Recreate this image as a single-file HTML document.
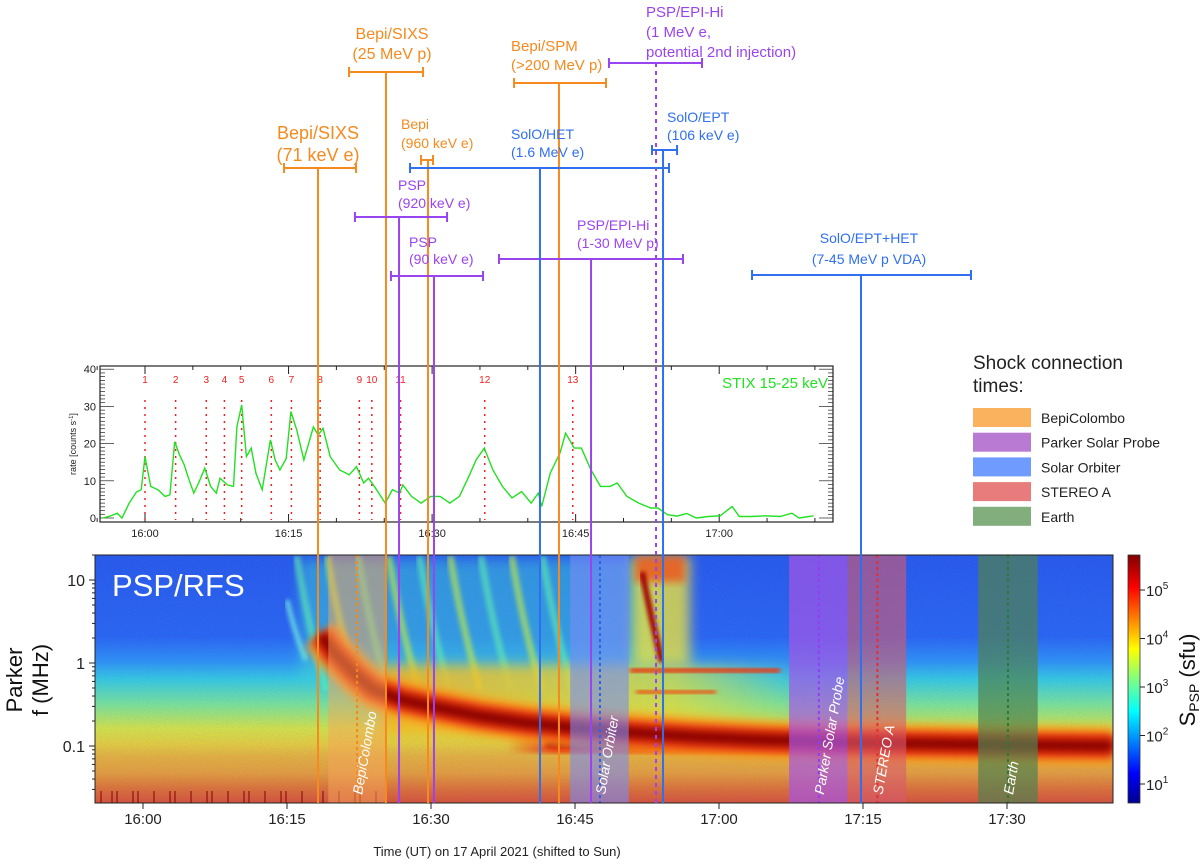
<!DOCTYPE html>
<html><head><meta charset="utf-8"><style>
html,body{margin:0;padding:0;background:#fff;}
svg{display:block;font-family:"Liberation Sans",Arial,sans-serif;}
</style></head><body>
<svg id="fig" width="1200" height="868" viewBox="0 0 1200 868">
<defs>
<clipPath id="specClip"><rect x="95" y="555" width="1018" height="248"/></clipPath>
<filter id="blur4" x="-20%" y="-20%" width="140%" height="140%"><feGaussianBlur stdDeviation="4"/></filter>
<filter id="blur6" x="-30%" y="-30%" width="160%" height="160%"><feGaussianBlur stdDeviation="6"/></filter>
<filter id="blur2"><feGaussianBlur stdDeviation="2"/></filter>
<filter id="noise" x="0" y="0" width="100%" height="100%"><feTurbulence type="fractalNoise" baseFrequency="0.9" numOctaves="1" seed="3"/><feColorMatrix type="matrix" values="0 0 0 0 0.1  0 0 0 0 0.2  0 0 0 0 0.9  0 0 0 0.35 0"/></filter>
<linearGradient id="bgGrad" x1="0" y1="555" x2="0" y2="803" gradientUnits="userSpaceOnUse">
<stop offset="0" stop-color="#1f52e6"/>
<stop offset="0.33" stop-color="#2161ef"/>
<stop offset="0.43" stop-color="#2794f2"/>
<stop offset="0.50" stop-color="#2fd2dc"/>
<stop offset="0.60" stop-color="#7cf08a"/>
<stop offset="0.70" stop-color="#e4f02c"/>
<stop offset="0.76" stop-color="#f8d820"/>
<stop offset="0.81" stop-color="#f8b820"/>
<stop offset="0.88" stop-color="#f8a01e"/>
<stop offset="0.94" stop-color="#f07018"/>
<stop offset="1" stop-color="#e84a1a"/>
</linearGradient>
<linearGradient id="cbGrad" x1="0" y1="1" x2="0" y2="0">
<stop offset="0" stop-color="#00008f"/><stop offset="0.12" stop-color="#0000ff"/>
<stop offset="0.37" stop-color="#00ffff"/><stop offset="0.5" stop-color="#80ff80"/>
<stop offset="0.62" stop-color="#ffff00"/><stop offset="0.87" stop-color="#ff0000"/>
<stop offset="1" stop-color="#800000"/>
</linearGradient>
<linearGradient id="midGrad" x1="0" y1="0" x2="1" y2="0">
<stop offset="0" stop-color="#f8b020" stop-opacity="0.85"/>
<stop offset="0.7" stop-color="#f0d830" stop-opacity="0.7"/>
<stop offset="1" stop-color="#f0e030" stop-opacity="0"/>
</linearGradient>
<linearGradient id="redGrad" x1="0" y1="0" x2="1" y2="0">
<stop offset="0" stop-color="#e83010" stop-opacity="0"/>
<stop offset="0.08" stop-color="#e83010" stop-opacity="1"/>
<stop offset="1" stop-color="#e83010" stop-opacity="1"/>
</linearGradient>
</defs>
<g id="spec" clip-path="url(#specClip)"></g>
<g id="overlay"></g>
</svg>
<script>
// ---------- data ----------
const stixTimes = [-4.4,-3.65,-2.9,-2.4,-1.65,-0.9,-0.4,0,0.6,1.35,2.1,2.6,3.1,3.6,4.1,4.6,5.1,5.6,6.25,6.85,7.45,7.85,8.6,9.25,9.6,10.1,10.6,11.1,11.6,12.25,13.1,13.6,14.1,14.75,15.25,15.85,16.6,17.6,18.1,18.6,19.35,20.35,21.35,22.1,22.85,23.35,24.1,25.1,25.85,26.6,26.95,27.85,28.85,29.85,30.85,31.85,32.85,33.85,34.6,35.45,36.35,37.35,38.35,39.35,40.35,41.1,41.45,42.35,43.35,43.95,44.85,45.6,46.6,47.6,48.6,49.35,50.35,51.6,52.85,53.6,54.6,55.6,56.6,57.6,58.85,60.1,61.35,62.1,63.35,64.85,66.35,67.6,68.35,69.85];
const stixRates = [0,0.5,1.3,0,4,7,7.6,16.5,8.5,7.6,5.8,6.2,20.5,17,14.3,10.3,6.7,9.4,13.4,8.5,6.7,10.7,8.9,8.5,24.5,30.4,16.5,18.8,12,7.6,21,15.6,12.9,16,28.6,23.7,15.6,24.5,22.3,24.1,16.5,12.9,11.6,13.8,9.4,10.7,8,4,7.6,6.7,8.9,5.8,4,5.8,5.8,4,5.8,11.2,15.6,18.8,12.9,8.5,5.4,7.1,4,6.7,3.1,12.1,17.4,22.8,18.8,18.8,12.9,8.5,8.5,9.4,5.8,4,2.7,2.7,0.9,0.5,1.2,0,0.4,0.6,3.1,0.4,0.4,0.6,0.4,1.3,0,0.6];
const flareLabels = ["1","2","3","4","5","6","7","8","9","10","11","12","13"];
const flareTimes = [0,3.2,6.4,8.3,10.1,13.2,15.3,18.3,22.4,23.7,26.7,35.5,44.7];
const stixYTicks = [0,10,20,30,40];
const stixXTicks = [0,15,30,45,60];
const stixXTickLabels = ["16:00","16:15","16:30","16:45","17:00"];
const specXTicks = [0,15,30,45,60,75,90];
const specXTickLabels = ["16:00","16:15","16:30","16:45","17:00","17:15","17:30"];
const specYTicks = [10,1,0.1];
const specYTickLabels = ["10","1","0.1"];
const cbTicks = [1,2,3,4,5];
const bandTimes = [18.5,20,22,24,27,30,35,40,45,50,57,65,75,90,101];
const bandFreqs = [2.2,1.3,0.75,0.48,0.36,0.3,0.23,0.19,0.165,0.148,0.13,0.118,0.11,0.103,0.1];
const markerTimes = [18.23,25.31,29.69,43.33,26.67,30.31,46.67,53.44,41.35,54.17,74.79];
const markerStart = [14.69,21.46,28.96,38.65,22.08,25.83,37.08,48.54,27.81,53.02,63.44];
const markerEnd = [22.19,29.17,30.21,48.23,31.67,35.42,56.25,58.23,54.79,55.63,86.25];
const shockNames = ["BepiColombo","Solar Orbiter","Parker Solar Probe","STEREO A","Earth"];
const shockStart = [19.3,44.5,67.3,73.4,87.0];
const shockEnd = [25.3,50.6,73.4,79.5,93.2];
const shockMid = [22.3,47.6,70.4,76.5,90.1];

// ---------- scales ----------
const sx = t => 143 + 9.6*t;
const sy = f => 663 - 83*Math.log10(f);
const tx = t => 145 + 9.57*t;
const ty = v => 518 - 3.72*v;
const cy = e => 784 - 48.5*(e-1);

const NS="http://www.w3.org/2000/svg";
function mk(tag, attrs, parent){const e=document.createElementNS(NS,tag);for(const k in attrs)e.setAttribute(k,attrs[k]);parent.appendChild(e);return e;}
const spec=document.getElementById('spec');
const ov=document.getElementById('overlay');

// ---------- spectrogram ----------
let r=mk('rect',{x:95,y:555,width:1018,height:248,fill:'url(#bgGrad)'},spec);

mk('rect',{x:95,y:555,width:1018,height:248,filter:'url(#noise)'},spec);
mk('rect',{x:300,y:560,width:360,height:120,fill:'#40d8d0',opacity:0.45,filter:'url(#blur6)'},spec);
for(let i=0;i<9;i++){
  const x0=sx(16+i*3.2);
  const p=mk('path',{d:`M${x0} 556 Q${x0+10} 620 ${x0+30} 690`,stroke:i%2?'#c8f040':'#60f0b0',"stroke-width":7,fill:'none',opacity:0.6,filter:'url(#blur2)'},spec);
  
}
mk('path',{d:`M${sx(15)} 600 Q${sx(16)} 640 ${sx(17)} 660`,stroke:'#70e8e0',"stroke-width":5,fill:'none',opacity:0.8,filter:'url(#blur2)'},spec);
mk('rect',{x:sx(25),y:665,width:sx(68)-sx(25),height:70,fill:'url(#midGrad)',filter:'url(#blur6)'},spec);
mk('rect',{x:sx(38),y:735,width:sx(101)-sx(38),height:18,fill:'url(#redGrad)',filter:'url(#blur2)'},spec);
mk('rect',{x:sx(42),y:740,width:sx(101)-sx(42),height:8,fill:'#b00808',filter:'url(#blur2)'},spec);
mk('rect',{x:632,y:556,width:58,height:110,fill:'#e8e040',opacity:0.8,filter:'url(#blur6)'},spec);
mk('rect',{x:635,y:556,width:50,height:26,fill:'#f04818',opacity:0.75,filter:'url(#blur4)'},spec);
mk('path',{d:'M642 572 L652 620 L662 662',stroke:'#a00000',"stroke-width":6,fill:'none',filter:'url(#blur2)'},spec);
mk('rect',{x:630,y:668,width:150,height:5,fill:'#e83a10',filter:'url(#blur2)'},spec);
mk('rect',{x:636,y:690,width:80,height:4,fill:'#ee5010',filter:'url(#blur2)'},spec);
let bd='';bandTimes.forEach((t,i)=>{bd+=(i?'L':'M')+sx(t).toFixed(1)+' '+sy(bandFreqs[i]).toFixed(1)+' ';});
[[40,'#f8a020',0.8],[26,'#ee3a10',1],[12,'#8a0000',1]].forEach(s=>{
  const p=mk('path',{d:bd,stroke:s[1],"stroke-width":s[0],fill:'none',"stroke-linejoin":'round',opacity:s[2],filter:'url(#blur4)'},spec);
  
});
for(let i=0;i<24;i++){ const x=100+((i*37)%280); mk('rect',{x:x,y:791,width:2,height:12,fill:'#901010',opacity:0.6},spec);}

const shockFill=['rgba(245,165,90,0.5)','rgba(120,140,245,0.6)','rgba(165,85,230,0.7)','rgba(215,90,110,0.6)','rgba(80,130,80,0.7)'];
const shockDash=['#f08a20','#3060e8','#9040f0','#e03030','#2a7a3a'];
shockNames.forEach((n,i)=>{
  const b=mk('rect',{x:sx(shockStart[i]),y:555,width:sx(shockEnd[i])-sx(shockStart[i]),height:248,fill:shockFill[i]},spec);
  
  mk('line',{x1:sx(shockMid[i]),x2:sx(shockMid[i]),y1:555,y2:803,stroke:shockDash[i],"stroke-width":2,"stroke-dasharray":'3,3'},spec);
  const t=mk('text',{x:0,y:0,transform:`translate(${sx(shockMid[i])+5},795) rotate(-80)`,fill:'#fff',"font-size":14,"font-style":'italic'},spec);
  t.textContent=n;
  
});
let tt=mk('text',{x:112,y:596,fill:'#fff',"font-size":31},spec);tt.textContent='PSP/RFS';


mk('rect',{x:95,y:555,width:1018,height:248,fill:'none',stroke:'#222',"stroke-width":1},ov);
specXTicks.forEach((t,i)=>{
  mk('line',{x1:sx(t),x2:sx(t),y1:803,y2:809,stroke:'#222'},ov);
  const l=mk('text',{x:sx(t),y:824,"text-anchor":'middle',"font-size":15,fill:'#222'},ov);l.textContent=specXTickLabels[i];
  
});
specYTicks.forEach((f,i)=>{
  mk('line',{x1:89,x2:95,y1:sy(f),y2:sy(f),stroke:'#222'},ov);
  const l=mk('text',{x:85,y:sy(f)+6,"text-anchor":'end',"font-size":16,fill:'#222'},ov);l.textContent=specYTickLabels[i];
  
});
for(let d=-2;d<=1;d++)for(let m=2;m<10;m++){const y=sy(m*Math.pow(10,d));if(y>555&&y<803)mk('line',{x1:92,x2:95,y1:y,y2:y,stroke:'#222'},ov);}
let yl=mk('text',{x:0,y:0,transform:'translate(22,680) rotate(-90)',"text-anchor":'middle',"font-size":22,fill:'#111'},ov);yl.textContent='Parker';

yl=mk('text',{x:0,y:0,transform:'translate(48,680) rotate(-90)',"text-anchor":'middle',"font-size":22,fill:'#111'},ov);yl.textContent='f (MHz)';

let xl=mk('text',{x:497,y:856,"text-anchor":'middle',"font-size":13,fill:'#222'},ov);xl.textContent='Time (UT) on 17 April 2021 (shifted to Sun)';


let cb=mk('rect',{x:1128,y:555,width:12,height:248,fill:'url(#cbGrad)',stroke:'#333',"stroke-width":0.8},ov);

cbTicks.forEach(e=>{
  mk('line',{x1:1140,x2:1145,y1:cy(e),y2:cy(e),stroke:'#222'},ov);
  const l=mk('text',{x:1146,y:cy(e)+6,"font-size":15,fill:'#222'},ov);
  l.innerHTML='10<tspan dy="-7" font-size="10">'+e+'</tspan>';
  
});
let cl=mk('text',{x:0,y:0,transform:'translate(1195,680) rotate(-90)',"text-anchor":'middle',"font-size":22,fill:'#111'},ov);
cl.innerHTML='S<tspan font-size="14" dy="4">PSP</tspan><tspan dy="-4"> (sfu)</tspan>';


// ---------- STIX panel ----------
let sp=mk('rect',{x:100,y:366,width:733,height:156,fill:'#fff',stroke:'#222',"stroke-width":1.2},ov);

for(let v=0;v<=40;v++){const len=v%10===0?14:5;mk('line',{x1:100,x2:100+len,y1:ty(v),y2:ty(v),stroke:'#222',"stroke-width":0.7},ov);mk('line',{x1:833,x2:833-len,y1:ty(v),y2:ty(v),stroke:'#222',"stroke-width":0.7},ov);}
stixYTicks.forEach(v=>{const l=mk('text',{x:96,y:ty(v)+4,"text-anchor":'end',"font-size":11,fill:'#222'},ov);l.textContent=v;
  });
for(let t=-5;t<=70;t+=5){const big=t%15===0;mk('line',{x1:tx(t),x2:tx(t),y1:522,y2:522-(big?8:4),stroke:'#222'},ov);mk('line',{x1:tx(t),x2:tx(t),y1:366,y2:366+(big?8:4),stroke:'#222'},ov);}
stixXTicks.forEach((t,i)=>{const l=mk('text',{x:tx(t),y:537,"text-anchor":'middle',"font-size":11,fill:'#222'},ov);l.textContent=stixXTickLabels[i];
  });
let rl=mk('text',{x:0,y:0,transform:'translate(76,444) rotate(-90)',"text-anchor":'middle',"font-size":9,fill:'#222'},ov);
rl.innerHTML='rate [counts s<tspan dy="-3" font-size="6">-1</tspan><tspan dy="3">]</tspan>';

flareTimes.forEach((t,i)=>{
  const ln=mk('line',{x1:tx(t),x2:tx(t),y1:400,y2:520,stroke:'#f02020',"stroke-width":1.5,"stroke-dasharray":'2,5'},ov);
  
  const l=mk('text',{x:tx(t),y:383,"text-anchor":'middle',"font-size":10,fill:'#f02020'},ov);l.textContent=flareLabels[i];
  
});
let sd='';stixTimes.forEach((t,i)=>{sd+=(i?'L':'M')+tx(t).toFixed(1)+' '+ty(stixRates[i]).toFixed(1)+' ';});
let sl=mk('path',{d:sd,stroke:'#22e022',"stroke-width":1.4,fill:'none'},ov);

let st=mk('text',{x:828,y:388,"text-anchor":'end',"font-size":15,fill:'#22e022'},ov);st.textContent='STIX 15-25 keV';


// ---------- particle-onset markers ----------
const markerColor=['#f58a1f','#f58a1f','#f58a1f','#f58a1f','#9a44f0','#9a44f0','#9a44f0','#9a44f0','#2f6ff0','#2f6ff0','#2f6ff0'];
const markerBarY=[168,72,160,83,217,276,259,63,168,150,275];
const markerDash=[0,0,0,0,0,0,0,1,0,0,0];
const markerLabel=[["Bepi/SIXS","(71 keV e)"],["Bepi/SIXS","(25 MeV p)"],["Bepi","(960 keV e)"],["Bepi/SPM","(>200 MeV p)"],["PSP","(920 keV e)"],["PSP","(90 keV e)"],["PSP/EPI-Hi","(1-30 MeV p)"],["PSP/EPI-Hi","(1 MeV e,","potential 2nd injection)"],["SolO/HET","(1.6 MeV e)"],["SolO/EPT","(106 keV e)"],["SolO/EPT+HET","(7-45 MeV p VDA)"]];
const labelX=[318,392,401,511,398,409,577,646,511,667,869];
const labelY=[139,39,129,51,190,247,230,17,139,122,243];
const labelAnchor=['middle','middle','start','start','start','start','start','start','start','start','middle'];
const labelSize=[18,16,14,15,14,14,14,15,14,14,14];
const labelLH=[22,20,19,19,18,17,18,20,18,18,21];
markerTimes.forEach((t,i)=>{
  const g=mk('g',{},ov);
  
  
  const c=markerColor[i],by=markerBarY[i];
  mk('line',{x1:sx(t),x2:sx(t),y1:by,y2:803,stroke:c,"stroke-width":2,"stroke-dasharray":markerDash[i]?'4,4':'none'},g);
  mk('line',{x1:sx(markerStart[i]),x2:sx(markerEnd[i]),y1:by,y2:by,stroke:c,"stroke-width":2},g);
  mk('line',{x1:sx(markerStart[i]),x2:sx(markerStart[i]),y1:by-5,y2:by+5,stroke:c,"stroke-width":2},g);
  mk('line',{x1:sx(markerEnd[i]),x2:sx(markerEnd[i]),y1:by-5,y2:by+5,stroke:c,"stroke-width":2},g);
  markerLabel[i].forEach((s,j)=>{
    const l=mk('text',{x:labelX[i],y:labelY[i]+j*labelLH[i],"text-anchor":labelAnchor[i],"font-size":labelSize[i],fill:c},g);
    l.textContent=s;
  });
});

// ---------- legend ----------
const legColors=['#fbb25e','#b97ad3','#6f9bff','#e87b7b','#82ad7c'];
const legNames=['BepiColombo','Parker Solar Probe','Solar Orbiter','STEREO A','Earth'];
let lg=mk('g',{},ov);
let lt=mk('text',{x:973,y:369,"font-size":19,fill:'#222'},lg);lt.textContent='Shock connection';
lt=mk('text',{x:973,y:392,"font-size":19,fill:'#222'},lg);lt.textContent='times:';
legNames.forEach((n,i)=>{
  const y=408+i*24.7;
  const e=mk('g',{},lg);
  mk('rect',{x:973,y:y,width:58,height:19,fill:legColors[i]},e);
  const l=mk('text',{x:1041,y:y+15,"font-size":14,fill:'#222'},e);l.textContent=n;
});
</script>
</body></html>
